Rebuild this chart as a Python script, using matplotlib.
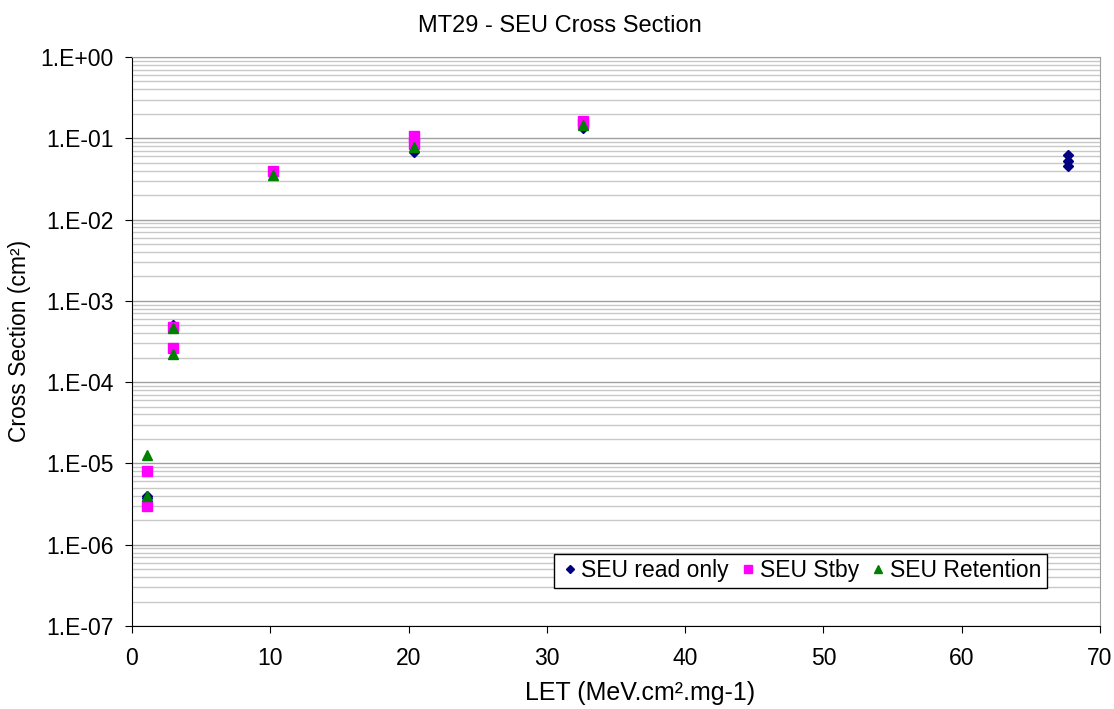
import numpy as np
import matplotlib.pyplot as plt
from matplotlib.ticker import FixedLocator, LogLocator, NullFormatter

plt.rcParams['font.family'] = ['Liberation Sans', 'DejaVu Sans']

# データ
read_x = [1.1, 1.1, 3.0, 10.2, 20.4, 20.4, 32.6, 67.7, 67.7, 67.7]
read_y = [4.0e-6, 3.8e-6, 5.0e-4, 3.7e-2, 6.8e-2, 7.5e-2, 1.34e-1, 6.2e-2, 5.2e-2, 4.5e-2]

stby_x = [1.1, 1.1, 3.0, 3.0, 10.2, 20.4, 20.4, 32.6, 32.6]
stby_y = [8.0e-6, 3.0e-6, 4.8e-4, 2.65e-4, 4.0e-2, 1.07e-1, 8.5e-2, 1.65e-1, 1.5e-1]

ret_x = [1.1, 1.1, 3.0, 3.0, 10.2, 20.4, 32.6]
ret_y = [1.27e-5, 4.0e-6, 4.7e-4, 2.25e-4, 3.5e-2, 7.9e-2, 1.45e-1]

ytick_vals = [1e-7, 1e-6, 1e-5, 1e-4, 1e-3, 1e-2, 1e-1, 1e0]
ytick_labels = ['1.E-07', '1.E-06', '1.E-05', '1.E-04', '1.E-03', '1.E-02', '1.E-01', '1.E+00']

W, H = 1114, 709
fig = plt.figure(figsize=(W / 100, H / 100), dpi=100)
ax = fig.add_axes([132 / W, 1 - 626 / H, 968 / W, 569 / H])

ax.plot(read_x, read_y, 'D', color='#000080', ms=5.5, ls='none', label='SEU read only', zorder=3)
ax.plot(stby_x, stby_y, 's', color='#FF00FF', ms=7, ls='none', label='SEU Stby', zorder=3)
ax.plot(ret_x, ret_y, '^', color='#008000', ms=7.5, ls='none', label='SEU Retention', zorder=4)

ax.set_yscale('log')
ax.set_xlim(0, 70)
ax.set_ylim(1e-7, 1e0)
ax.set_xticks(range(0, 71, 10))
ax.yaxis.set_major_locator(FixedLocator(ytick_vals))
ax.set_yticklabels(ytick_labels)
ax.yaxis.set_minor_locator(LogLocator(base=10, subs=np.arange(2, 10), numticks=20))
ax.yaxis.set_minor_formatter(NullFormatter())
ax.tick_params(axis='y', which='minor', length=0)
ax.tick_params(axis='both', which='major', labelsize=16.5, direction='out', length=5)
ax.tick_params(axis='x', pad=10)
ax.tick_params(axis='y', pad=8)

ax.grid(True, which='major', axis='y', color='#A0A0A0', lw=1)
ax.grid(True, which='minor', axis='y', color='#C8C8C8', lw=1)
ax.set_axisbelow(True)

for s in ['top', 'right']:
    ax.spines[s].set_color('#A0A0A0')
for s in ['left', 'bottom']:
    ax.spines[s].set_color('black')

fig.text(560 / W, 1 - 26 / H, 'MT29 - SEU Cross Section', fontsize=17, ha='center', va='center')
fig.text(640 / W, 1 - 693 / H, 'LET (MeV.cm².mg-1)', fontsize=18, ha='center', va='center')
fig.text(20 / W, 1 - 341 / H, 'Cross Section (cm²)', fontsize=16.5, ha='center', va='center',
         rotation=90)

leg = ax.legend(loc='lower right', bbox_to_anchor=(1047 / W, 1 - 588 / H),
                bbox_transform=fig.transFigure, ncol=3, fontsize=16.5,
                frameon=True, fancybox=False, edgecolor='black', framealpha=1,
                handletextpad=0.05, columnspacing=0.4, borderpad=0.25, handlelength=0.9,
                borderaxespad=0, markerscale=0.8)
leg.get_frame().set_linewidth(1)

fig.savefig('out.png', dpi=100)
